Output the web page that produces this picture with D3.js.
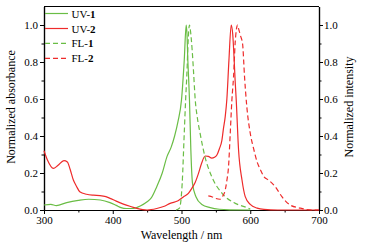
<!DOCTYPE html>
<html><head><meta charset="utf-8">
<script src="https://cdn.jsdelivr.net/npm/d3@7"></script>
<style>
body{margin:0;background:#fff;}
text{font-family:"Liberation Serif","Times New Roman",serif;}
</style></head>
<body><svg id="c" width="365" height="246"></svg>
<script>
const xTicks = [300,400,500,600,700];
const yTicks = [0,0.2,0.4,0.6,0.8,1.0];

const uv1Wl = [300,310,318,333,350,365,382,396,405,412,420,428,440,450,456,464,472,479,485,490,495,500,504,506.8,508,509.2,510.5,511.6,513.6,516,521,529.6,541.7,555,570,600];
const uv1   = [.027,.03,.024,.04,.052,.058,.054,.04,.025,.013,.008,.008,.022,.045,.065,.126,.2,.29,.34,.4,.48,.595,.81,1.0,.95,.81,.7,.595,.324,.144,.072,.03,.013,.004,.001,0];

const uv2Wl = [300,305,313.6,320,329,334,338,342.7,347,352,362,372,381.5,390,396,405,415.5,425,435,450,464,475,483.5,495,503,510,515,520,524.7,529,534.5,539,544,548,551.5,555,558.8,561,563.6,566,569,572.3,574.5,576.5,578,579.6,583,588,592.7,600,610,620,640,700];
const uv2   = [.32,.27,.225,.24,.267,.26,.22,.162,.13,.099,.085,.08,.078,.072,.063,.048,.032,.02,.009,0,.008,.02,.036,.05,.072,.09,.117,.15,.198,.25,.292,.29,.28,.285,.297,.33,.378,.44,.505,.6,.81,1.0,.95,.82,.7,.595,.324,.162,.072,.03,.01,.003,0,0];

const fl1Wl = [492,497,501,504,506,508,509.5,511.6,513,515.5,517.5,520,523,527,534,544,559,576,595,600];
const fl1   = [0,0.01,0.144,0.415,0.595,0.75,0.9,1.0,0.97,0.865,0.748,0.595,0.5,0.415,0.29,0.18,0.09,0.04,0.013,0.005];

const fl2Wl = [539,545,550,556,560,563.6,566,568.4,570.9,573.3,575.7,578,580,581.5,583,586,588.8,591.7,595,600,605,610,614.5,620,626.6,636.4,646,658,673,690,700];
const fl2   = [.076,.07,.062,.058,.075,.108,.16,.234,.415,.595,.72,.9,.98,1.0,.98,.94,.9,.72,.558,.415,.33,.26,.22,.18,.162,.126,.072,.027,.01,0,0];

const seriesNames = ["UV-", "UV-", "FL-", "FL-"];
const seriesNums = ["1","2","1","2"];

const green = "#6abd45", red = "#ee2b2b";
const svg = d3.select("#c");
const L = 44, R = 319, T = 6.5, B = 210;
const x = d3.scaleLinear().domain([300,700]).range([L,R]);
const y = d3.scaleLinear().domain([0,1.1]).range([B,T]);

// frame top
svg.append("line").attr("x1",L).attr("x2",R).attr("y1",T).attr("y2",T).attr("stroke","#000").attr("stroke-width",1);

function styleAxis(g){
  g.selectAll("path").attr("stroke","#000").attr("stroke-width",1.2);
  g.selectAll("line").attr("stroke","#000").attr("stroke-width",1);
  g.selectAll("text").attr("font-family","Liberation Serif").attr("font-size",11).attr("fill","#000");
}
const yMinor = d3.range(0.1,1.1,0.2);
const xMinor = [350,450,550,650];

// minor ticks
svg.append("g").attr("transform",`translate(0,${B})`).call(d3.axisBottom(x).tickValues(xMinor).tickSize(2.5).tickFormat("").tickSizeOuter(0)).call(styleAxis);
svg.append("g").attr("transform",`translate(${L},0)`).call(d3.axisLeft(y).tickValues(yMinor).tickSize(2.5).tickFormat("").tickSizeOuter(0)).call(styleAxis);
svg.append("g").attr("transform",`translate(${R},0)`).call(d3.axisRight(y).tickValues(yMinor).tickSize(2.5).tickFormat("").tickSizeOuter(0)).call(styleAxis);

const gx = svg.append("g").attr("transform",`translate(0,${B})`).call(d3.axisBottom(x).tickValues(xTicks).tickSize(4).tickPadding(2).tickSizeOuter(0)).call(styleAxis);
const gyl = svg.append("g").attr("transform",`translate(${L},0)`).call(d3.axisLeft(y).tickValues(yTicks).tickSize(4).tickPadding(2).tickFormat(d3.format(".1f")).tickSizeOuter(0)).call(styleAxis);
const gyr = svg.append("g").attr("transform",`translate(${R},0)`).call(d3.axisRight(y).tickValues(yTicks).tickSize(4).tickPadding(1).tickFormat(d3.format(".1f")).tickSizeOuter(0)).call(styleAxis);

// axis labels
svg.append("text").attr("x",(L+R)/2).attr("y",239).attr("text-anchor","middle").attr("font-size",12).text("Wavelength / nm");
svg.append("text").attr("transform",`translate(15,107) rotate(-90)`).attr("text-anchor","middle").attr("font-size",12).text("Normalized absorbance");
svg.append("text").attr("transform",`translate(353,107) rotate(-90)`).attr("text-anchor","middle").attr("font-size",12).text("Normalized intensity");

const line = d3.line().x(d=>x(d[0])).y(d=>y(d[1])).curve(d3.curveMonotoneX);
const plot = svg.append("g");
const defs = [
  {wl:uv1Wl, v:uv1, c:green, dash:null},
  {wl:uv2Wl, v:uv2, c:red, dash:null},
  {wl:fl1Wl, v:fl1, c:green, dash:"5,3"},
  {wl:fl2Wl, v:fl2, c:red, dash:"5,3"}
];
defs.forEach(s=>{
  plot.append("path").datum(s.wl.map((w,i)=>[w,s.v[i]]))
    .attr("d",line).attr("fill","none").attr("stroke",s.c).attr("stroke-width",1.2)
    .attr("stroke-dasharray",s.dash);
});

// legend
const legY = [13.5,28.5,43.3,58.3];
defs.forEach((s,i)=>{
  svg.append("line").attr("x1",45).attr("x2",68).attr("y1",legY[i]).attr("y2",legY[i])
    .attr("stroke",s.c).attr("stroke-width",1.2).attr("stroke-dasharray",s.dash);
  const t = svg.append("text").attr("x",71.5).attr("y",legY[i]+4).attr("font-size",11);
  t.append("tspan").text(seriesNames[i]);
  t.append("tspan").attr("font-weight","bold").text(seriesNums[i]);
});
</script></body></html>
